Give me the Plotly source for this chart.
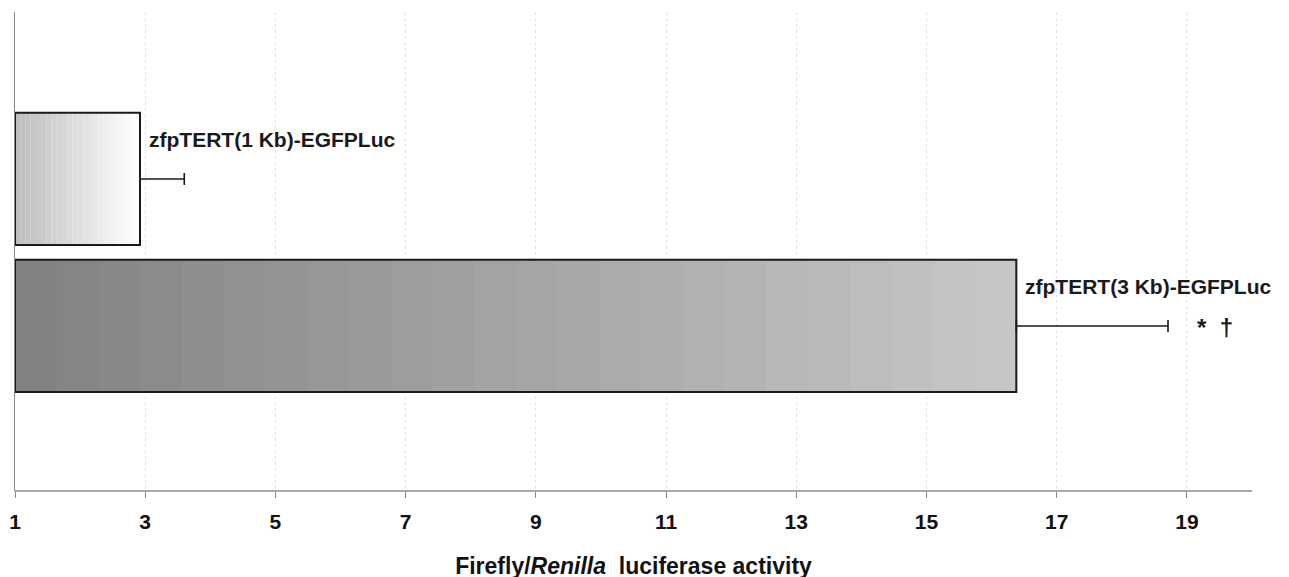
import plotly.graph_objects as go

categories = ["zfpTERT(3 Kb)-EGFPLuc", "zfpTERT(1 Kb)-EGFPLuc"]
values = [16.38, 2.92]
errors = [2.33, 0.68]
significance = ["*  †", ""]
x_ticks = [1, 3, 5, 7, 9, 11, 13, 15, 17, 19]

axis_start = 1
n_bands = 24
grad_colors = [((0x82, 0x82, 0x82), (0xc6, 0xc6, 0xc6)),
               ((0xbd, 0xbd, 0xbd), (0xff, 0xff, 0xff))]

fig = go.Figure()

for cat, val, (c0, c1) in zip(categories, values, grad_colors):
    w = (val - axis_start) / n_bands
    bases = [axis_start + i * w for i in range(n_bands)]
    cols = []
    for i in range(n_bands):
        t = i / (n_bands - 1)
        r, g, b = [round(a + (bb - a) * t) for a, bb in zip(c0, c1)]
        cols.append(f"rgb({r},{g},{b})")
    fig.add_trace(go.Bar(
        y=[cat] * n_bands, x=[w * 1.02] * n_bands, base=bases,
        orientation="h", width=0.9,
        marker=dict(color=cols, line=dict(width=0)),
        showlegend=False, hoverinfo="skip"))

# outlines + error bars
fig.add_trace(go.Bar(
    y=categories, x=[v - axis_start for v in values], base=[axis_start] * len(values),
    orientation="h", width=0.9,
    marker=dict(color="rgba(0,0,0,0)", line=dict(color="#1a1a1a", width=2)),
    error_x=dict(type="data", array=errors, arrayminus=[0] * len(errors),
                 symmetric=False, color="#1a1a1a", thickness=1.6, width=6),
    showlegend=False, hoverinfo="skip"))

FONT = "Liberation Sans, Arial"
annotations = []
for cat, val, err, sig in zip(categories, values, errors, significance):
    annotations.append(dict(
        x=val, y=cat, xref="x", yref="y", text="<b>" + cat + "</b>",
        showarrow=False, xanchor="left", yanchor="middle", xshift=7, yshift=39,
        font=dict(family=FONT, size=21, color="#1a1a1a")))
    if sig:
        annotations.append(dict(
            x=val + err, y=cat, xref="x", yref="y", text="<b>" + sig + "</b>",
            showarrow=False, xanchor="left", yanchor="middle", xshift=27, yshift=-2,
            font=dict(family=FONT, size=24, color="#1a1a1a")))

# page body has an 8px margin, so the plot margins are offset to compensate
fig.update_layout(
    barmode="overlay",
    width=1289, height=577,
    margin=dict(l=7, r=45, t=4, b=95, autoexpand=False),
    plot_bgcolor="white", paper_bgcolor="white",
    annotations=annotations,
    xaxis=dict(
        range=[1, 20], tickvals=x_ticks, ticktext=[str(t) for t in x_ticks],
        showgrid=True, gridcolor="#e2e2e2", griddash="dot", gridwidth=1,
        showline=True, linecolor="#a8a8a8", linewidth=2,
        ticks="outside", ticklen=6, tickcolor="#888", tickwidth=1,
        ticklabelstandoff=6,
        tickfont=dict(family=FONT, size=21, color="#111", weight="bold"),
        title=dict(text="<b>Firefly/<i>Renilla</i>  luciferase activity</b>",
                   font=dict(family=FONT, size=23, color="#111"),
                   standoff=26),
        zeroline=False, automargin=False),
    yaxis=dict(
        type="category", categoryarray=categories,
        range=[-1.116, 2.136], showticklabels=False, ticks="",
        showgrid=False, showline=True, linecolor="#888", linewidth=1,
        zeroline=False, automargin=False),
)

fig.write_html("out.html")
